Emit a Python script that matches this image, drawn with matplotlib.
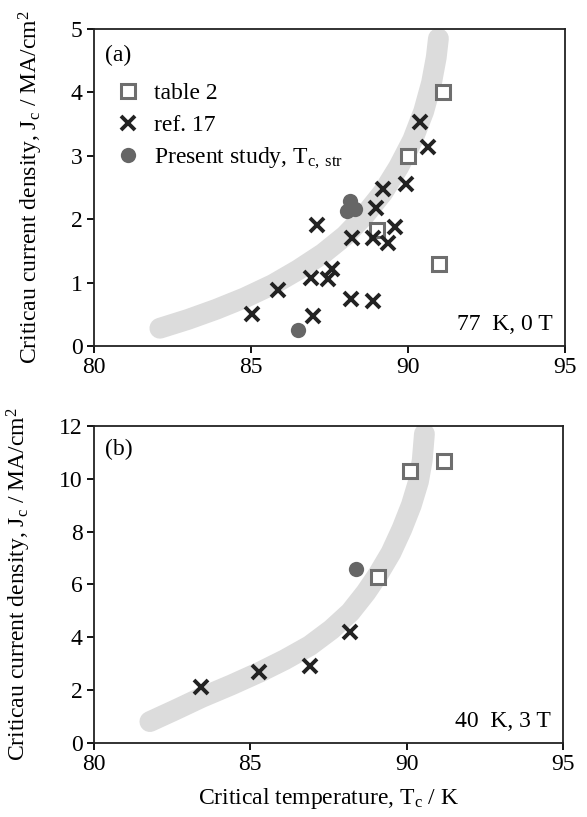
import matplotlib
matplotlib.use('Agg')
import matplotlib.pyplot as plt
import matplotlib.ticker as mticker

# ── DATA ──────────────────────────────────────────────────────────────────────
# panel (a): 77 K, 0 T
A_TAB2_TC = [91.1, 90.0, 89.0, 91.0]
A_TAB2_JC = [4.0, 3.0, 1.83, 1.3]
A_REF17_TC = [90.38, 90.63, 89.93, 89.19, 88.97, 89.59, 89.37, 88.90, 88.21, 87.09,
              87.57, 87.46, 86.90, 85.87, 85.02, 86.98, 88.18, 88.90]
A_REF17_JC = [3.54, 3.14, 2.55, 2.47, 2.17, 1.87, 1.62, 1.70, 1.71, 1.91,
              1.21, 1.05, 1.08, 0.88, 0.50, 0.47, 0.74, 0.71]
A_PRES_TC = [86.51, 88.15, 88.07, 88.31]
A_PRES_JC = [0.26, 2.29, 2.13, 2.16]
# hand-drawn guide band
A_GUIDE_TC = [82.1, 83.0, 83.9, 84.8, 85.7, 86.5, 87.3, 88.0, 88.6, 89.2, 89.7,
              90.15, 90.5, 90.75, 90.9, 90.97]
A_GUIDE_JC = [0.28, 0.42, 0.58, 0.76, 0.97, 1.2, 1.46, 1.74, 2.05, 2.42, 2.82,
              3.25, 3.7, 4.15, 4.55, 4.85]

# panel (b): 40 K, 3 T
B_TAB2_TC = [90.10, 91.19, 89.08]
B_TAB2_JC = [10.30, 10.68, 6.28]
B_REF17_TC = [83.44, 85.27, 86.92, 88.18]
B_REF17_JC = [2.11, 2.70, 2.93, 4.22]
B_PRES_TC = [88.37]
B_PRES_JC = [6.58]
B_GUIDE_TC = [81.79, 82.6, 83.44, 84.4, 85.3, 86.1, 86.9, 87.6, 88.2, 88.7, 89.1,
              89.5, 89.85, 90.15, 90.38, 90.5, 90.57]
B_GUIDE_JC = [0.81, 1.25, 1.72, 2.2, 2.68, 3.15, 3.68, 4.3, 4.95, 5.7, 6.4,
              7.2, 8.1, 9.0, 9.9, 10.7, 11.7]

# ── STYLE ─────────────────────────────────────────────────────────────────────
plt.rcParams['font.family'] = ['Liberation Serif', 'DejaVu Serif']
plt.rcParams['mathtext.fontset'] = 'custom'
plt.rcParams['mathtext.rm'] = 'Liberation Serif'
plt.rcParams['mathtext.it'] = 'Liberation Serif:italic'

FS = 17
GUIDE_COL = '#dcdcdc'
SQ_COL = '#6e6e6e'
X_COL = '#222222'
DOT_COL = '#666666'
YLABEL = r'Criticau current density, J$_\mathrm{c}$ / MA/cm$^2$'

fig = plt.figure(figsize=(5.87, 8.17), dpi=100)
ax_a = fig.add_axes([0.160, 0.5765, 0.8025, 0.388])
ax_b = fig.add_axes([0.160, 0.0906, 0.7990, 0.388])


def draw_panel(ax, tab_tc, tab_jc, ref_tc, ref_jc, pres_tc, pres_jc, g_tc, g_jc):
    ax.plot(g_tc, g_jc, color=GUIDE_COL, linewidth=15, solid_capstyle='round',
            solid_joinstyle='round', zorder=1)
    ax.plot(tab_tc, tab_jc, linestyle='none', marker='s', markersize=9.5,
            markerfacecolor='white', markeredgecolor=SQ_COL, markeredgewidth=2.2,
            label='table 2', zorder=3)
    ax.plot(ref_tc, ref_jc, linestyle='none', marker='x', markersize=10.5,
            color=X_COL, markeredgewidth=2.8, label='ref. 17', zorder=4)
    ax.plot(pres_tc, pres_jc, linestyle='none', marker='o', markersize=11,
            color=DOT_COL, markeredgewidth=0,
            label=r'Present study, T$_\mathrm{c,\ str}$', zorder=5)
    ax.set_xlim(80, 95)
    ax.xaxis.set_major_locator(mticker.MultipleLocator(5))
    ax.tick_params(axis='both', direction='out', length=5, width=1.3,
                   labelsize=FS, top=False, right=False, pad=3)
    for s in ax.spines.values():
        s.set_linewidth(1.3)
        s.set_color('#222222')
    ax.set_ylabel(YLABEL, fontsize=FS, labelpad=19)


draw_panel(ax_a, A_TAB2_TC, A_TAB2_JC, A_REF17_TC, A_REF17_JC,
           A_PRES_TC, A_PRES_JC, A_GUIDE_TC, A_GUIDE_JC)
ax_a.set_ylim(0, 5)
ax_a.yaxis.set_major_locator(mticker.MultipleLocator(1))
ax_a.text(0.023, 0.918, '(a)', transform=ax_a.transAxes, fontsize=FS, va='center')
ax_a.text(0.975, 0.05, '77  K, 0 T', transform=ax_a.transAxes, fontsize=FS,
          ha='right', va='baseline')
ax_a.legend(loc='upper left', bbox_to_anchor=(0.047, 0.83), frameon=False,
            fontsize=FS, handlelength=1.0, handletextpad=0.6, labelspacing=0.42,
            borderpad=0, borderaxespad=0)

draw_panel(ax_b, B_TAB2_TC, B_TAB2_JC, B_REF17_TC, B_REF17_JC,
           B_PRES_TC, B_PRES_JC, B_GUIDE_TC, B_GUIDE_JC)
ax_b.set_ylim(0, 12)
ax_b.yaxis.set_major_locator(mticker.MultipleLocator(2))
ax_b.text(0.023, 0.925, '(b)', transform=ax_b.transAxes, fontsize=FS, va='center')
ax_b.text(0.975, 0.05, '40  K, 3 T', transform=ax_b.transAxes, fontsize=FS,
          ha='right', va='baseline')
ax_b.set_xlabel(r'Critical temperature, T$_\mathrm{c}$ / K', fontsize=FS, labelpad=8)

fig.savefig('out.png', dpi=100)
